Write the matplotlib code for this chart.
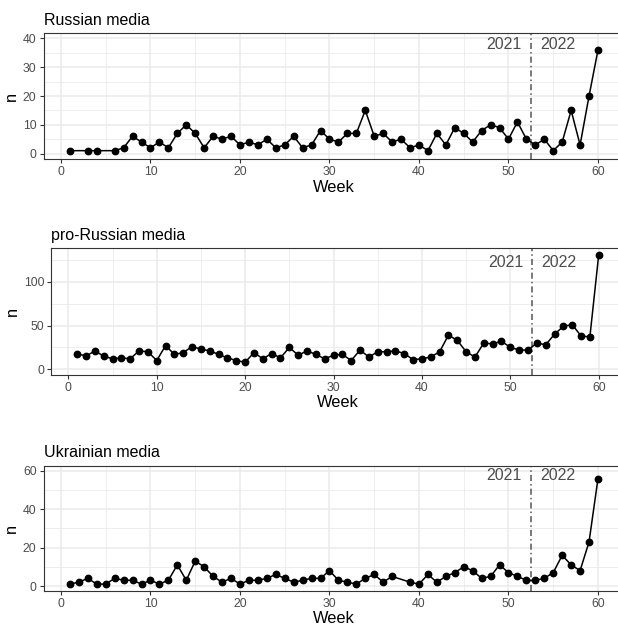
import matplotlib
matplotlib.use('Agg')
import matplotlib.pyplot as plt
from matplotlib.ticker import MultipleLocator

# weekly article counts per media group (week 53+ = 2022)
russian_weeks = [1, 3, 4] + list(range(6, 61))
russian_n = [1, 1, 1, 1, 2, 6, 4, 2, 4, 2,
             7, 10, 7, 2, 6, 5, 6, 3, 4, 3,
             5, 2, 3, 6, 2, 3, 8, 5, 4, 7,
             7, 15, 6, 7, 4, 5, 2, 3, 1, 7,
             3, 9, 7, 4, 8, 10, 9, 5, 11, 5,
             3, 5, 1, 4, 15, 3, 20, 36]

pro_russian_weeks = list(range(1, 61))
pro_russian_n = [18, 15, 21, 15, 12, 13, 12, 21, 20, 10,
                 27, 17, 19, 26, 23, 21, 17, 13, 10, 8,
                 19, 12, 18, 13, 25, 16, 21, 17, 12, 16,
                 17, 10, 22, 14, 20, 20, 21, 18, 11, 12,
                 14, 20, 39, 33, 20, 14, 30, 29, 32, 25,
                 22, 22, 30, 28, 40, 49, 51, 38, 37, 131]

ukrainian_weeks = list(range(1, 38)) + list(range(39, 61))
ukrainian_n = [1, 2, 4, 1, 1, 4, 3, 3, 1, 3,
               1, 3, 11, 3, 13, 10, 5, 2, 4, 1,
               3, 3, 4, 6, 4, 2, 3, 4, 4, 8,
               3, 2, 1, 4, 6, 2, 5, 2, 1,
               6, 2, 5, 7, 10, 8, 4, 5, 11, 7,
               5, 3, 3, 4, 7, 16, 11, 8, 23, 56]

titles = ['Russian media', 'pro-Russian media', 'Ukrainian media']
year_break = 52.5

W, H = 618, 630

def px_axes(fig, left, top, right, bottom):
  # place an axes using pixel edges measured from the top-left corner
  return fig.add_axes([left / W, 1 - bottom / H, (right - left) / W, (bottom - top) / H])

def draw_panel(ax, weeks, n, title, ylim, ystep, label_y):
  ax.set_xlim(-1.95, 62.95)
  ax.set_ylim(*ylim)
  ax.xaxis.set_major_locator(MultipleLocator(10))
  ax.xaxis.set_minor_locator(MultipleLocator(5))
  ax.yaxis.set_major_locator(MultipleLocator(ystep))
  ax.yaxis.set_minor_locator(MultipleLocator(ystep / 2))
  ax.grid(which='major', color='#EBEBEB', linewidth=1.1, zorder=0)
  ax.grid(which='minor', color='#EBEBEB', linewidth=0.6, zorder=0)
  ax.set_axisbelow(True)
  for s in ax.spines.values():
    s.set_color('#333333')
    s.set_linewidth(0.8)
  ax.tick_params(which='major', length=3, width=0.8, color='#333333',
                 labelcolor='#4D4D4D', labelsize=8.8, pad=2)
  ax.tick_params(which='minor', length=0)

  ax.plot(weeks, n, color='black', linewidth=1.1, marker='o', markersize=4.6, zorder=3)
  ax.axvline(year_break, color='#555555', linewidth=1.1,
             linestyle=(0, (4, 2, 1, 2)), zorder=2)
  ax.annotate('2021', (year_break, label_y), xytext=(-6.5, 0), textcoords='offset points',
              ha='right', va='center', fontsize=11.5, color='#4D4D4D')
  ax.annotate('2022', (year_break, label_y), xytext=(6.5, 0), textcoords='offset points',
              ha='left', va='center', fontsize=11.5, color='#4D4D4D')

  ax.set_title(title, loc='left', fontsize=11.5, pad=6)
  ax.set_xlabel('Week', fontsize=11.8, labelpad=1)
  ax.set_ylabel('n', fontsize=11.8, labelpad=3)

def main():
  plt.rcParams['font.family'] = ['Liberation Sans', 'DejaVu Sans']
  fig = plt.figure(figsize=(W / 100, H / 100), dpi=100)

  ax1 = px_axes(fig, 43.5, 33.3, 624.4, 159.3)
  draw_panel(ax1, russian_weeks, russian_n, titles[0], (-2.0, 41.8), 10, 38)

  ax2 = px_axes(fig, 51.1, 248.3, 624.8, 375.0)
  draw_panel(ax2, pro_russian_weeks, pro_russian_n, titles[1], (-6.55, 138.2), 50, 122)

  ax3 = px_axes(fig, 43.5, 465.7, 624.4, 591.0)
  draw_panel(ax3, ukrainian_weeks, ukrainian_n, titles[2], (-2.6, 62.7), 20, 57.5)

  fig.savefig('out.png', dpi=100, facecolor='white')

main()
